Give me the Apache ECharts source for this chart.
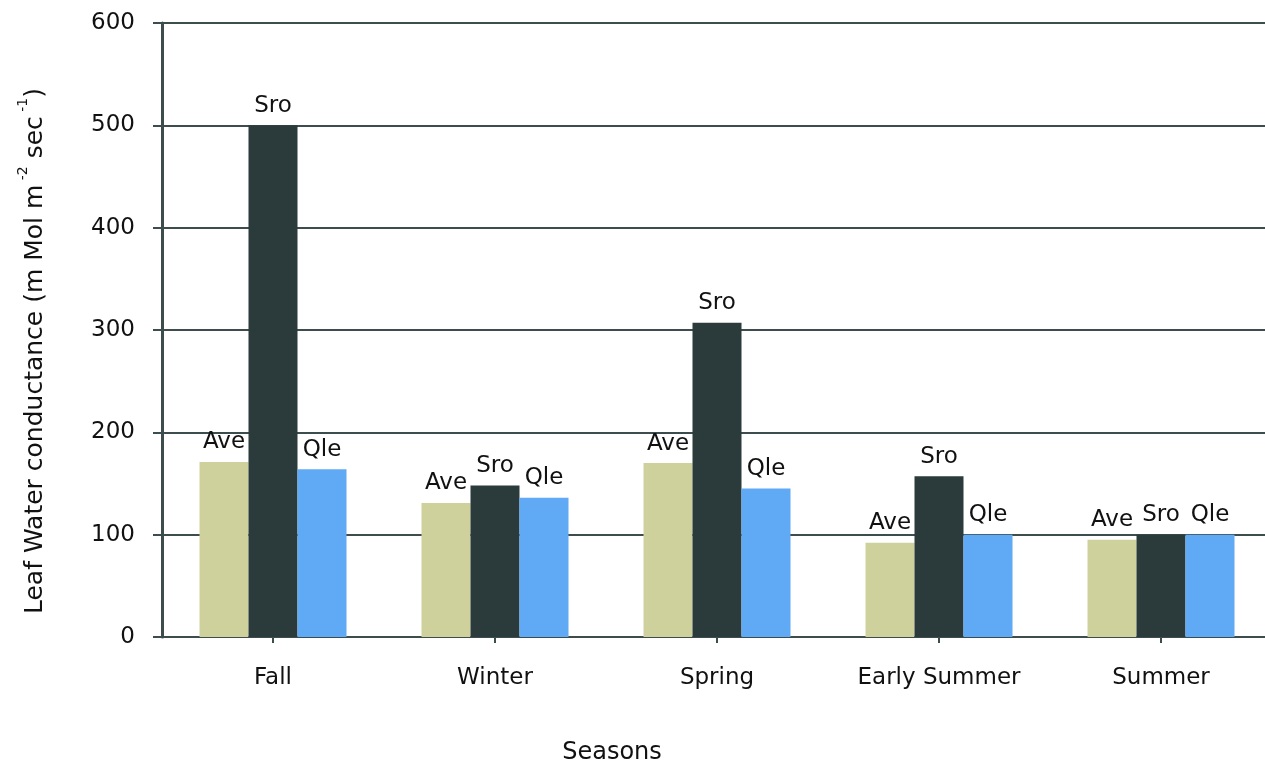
<!DOCTYPE html>
<html><head><meta charset="utf-8">
<script src="https://cdn.jsdelivr.net/npm/echarts@6/dist/echarts.min.js"></script>
<style>html,body{margin:0;padding:0;background:#fff}#c{width:1265px;height:763px}</style>
</head><body><div id="c"></div>
<script>
var categories = ['Fall', 'Winter', 'Spring', 'Early Summer', 'Summer'];
var aveValues = [171, 131, 170, 92, 95];
var sroValues = [500, 148, 307, 157, 100];
var qleValues = [164, 136, 145, 100, 100];
var yTicks = [0, 100, 200, 300, 400, 500, 600];

var chart = echarts.init(document.getElementById('c'));
var font = 'DejaVu Sans';
var ink = '#111111';
var axisCol = '#3d4d4d';
function mk(name, data, color) {
  return {
    name: name, type: 'bar', data: data, barWidth: 49, barGap: '0%',
    itemStyle: { color: color },
    label: { show: true, position: 'top', distance: 8, formatter: name,
      fontFamily: font, fontSize: 23, color: ink }
  };
}
chart.setOption({
  animation: false,
  grid: { left: 162, width: 1110, top: 23, bottom: 126, outerBoundsMode: 'none', containLabel: false },
  xAxis: {
    type: 'category', data: categories,
    name: 'Seasons', nameLocation: 'middle', nameGap: 104,
    nameTextStyle: { fontFamily: font, fontSize: 24, color: ink, padding: [0, 210, 0, 0] },
    axisLine: { lineStyle: { color: axisCol, width: 2 } },
    axisTick: { show: true, alignWithLabel: true, length: 6, lineStyle: { color: axisCol, width: 2 } },
    axisLabel: { fontFamily: font, fontSize: 23, color: ink, margin: 30, interval: 0 }
  },
  yAxis: {
    type: 'value', min: yTicks[0], max: yTicks[yTicks.length - 1], interval: 100,
    name: '{a|Leaf Water conductance (m Mol m}{s| -2}{a| sec}{s| -1}{a|)}',
    nameLocation: 'middle', nameGap: 114,
    nameTextStyle: {
      fontFamily: font, fontSize: 25, color: ink, padding: [0, 42, 0, 0],
      rich: {
        a: { fontFamily: font, fontSize: 25, color: ink, lineHeight: 32, verticalAlign: 'bottom' },
        s: { fontFamily: font, fontSize: 14, color: ink, lineHeight: 32, verticalAlign: 'top' }
      }
    },
    axisLine: { show: true, lineStyle: { color: axisCol, width: 3 } },
    axisTick: { show: true, length: 9, lineStyle: { color: axisCol, width: 2 } },
    axisLabel: { fontFamily: font, fontSize: 23, color: ink, margin: 27 },
    splitLine: { lineStyle: { color: axisCol, width: 2 } }
  },
  series: [
    mk('Ave', aveValues, '#cfd19d'),
    mk('Sro', sroValues, '#2b3a3a'),
    mk('Qle', qleValues, '#60aaf5')
  ]
});
</script></body></html>
